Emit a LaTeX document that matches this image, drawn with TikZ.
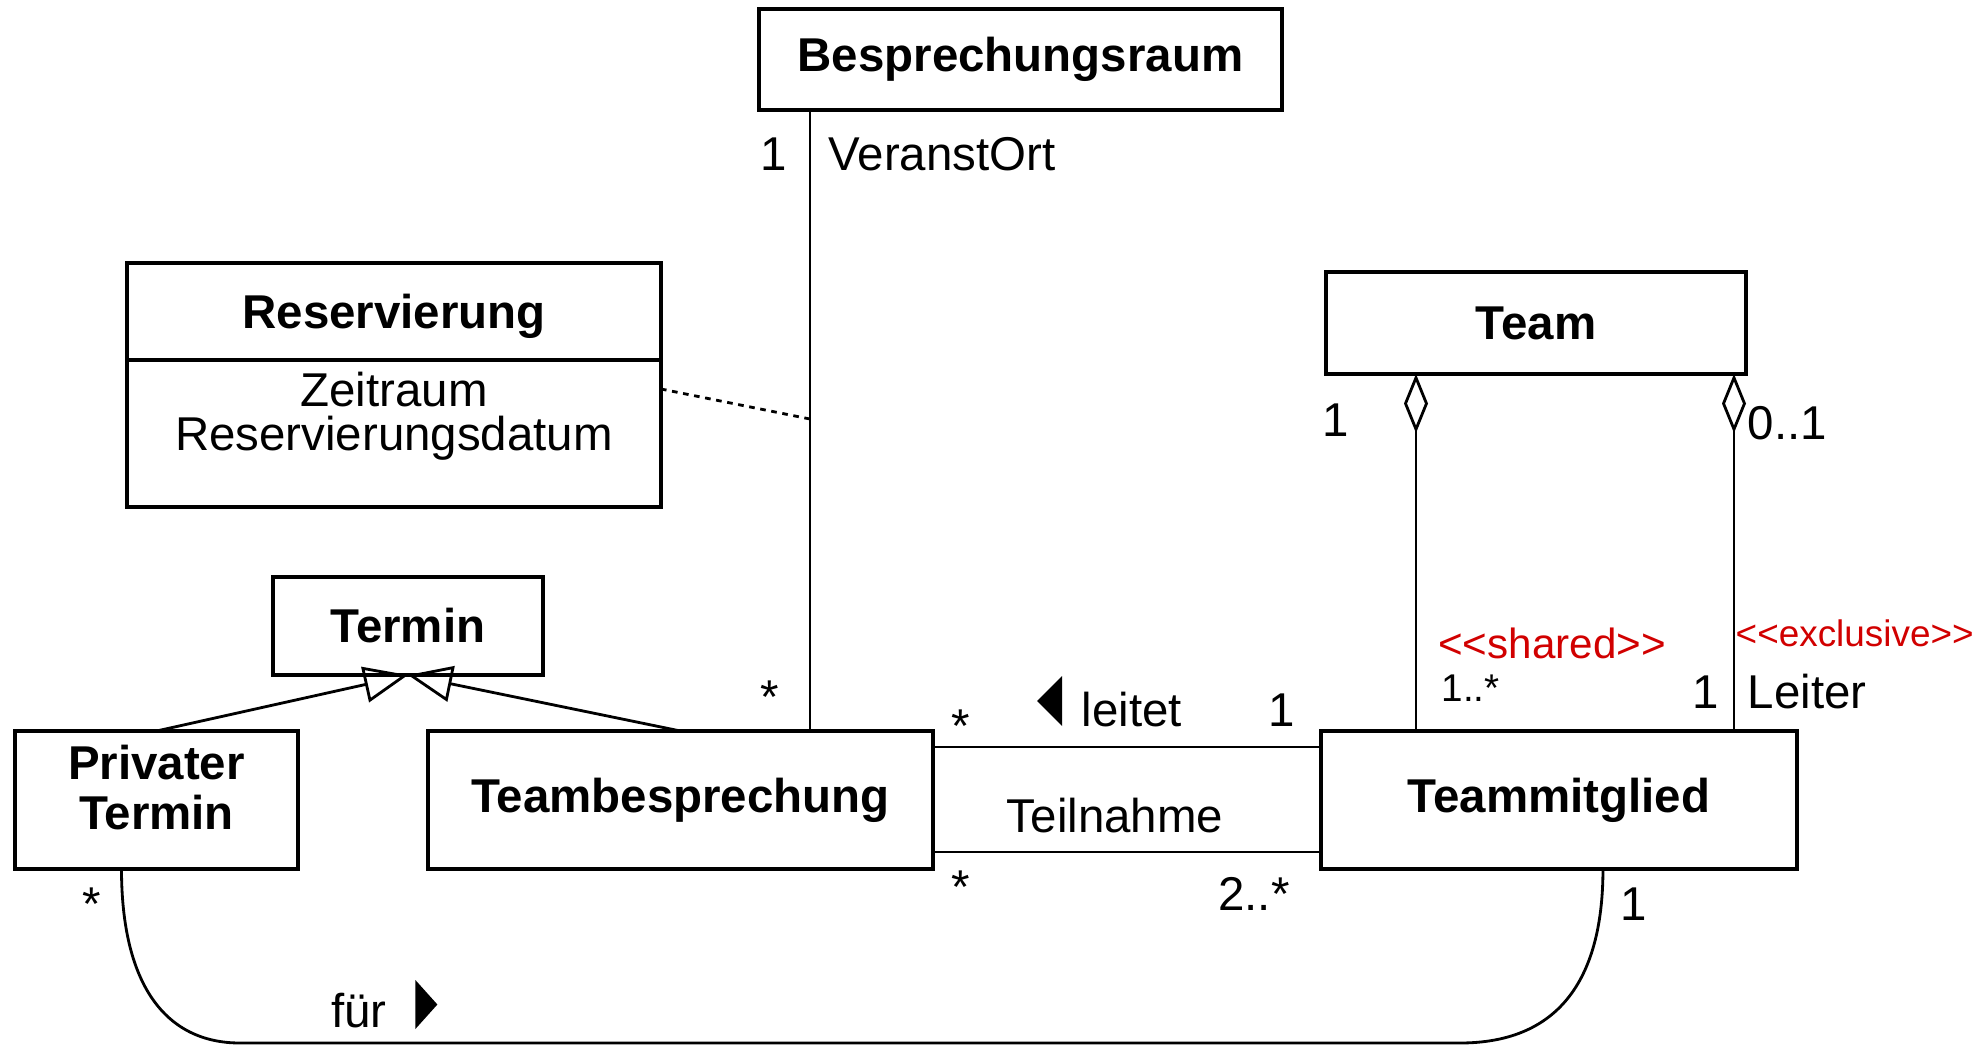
\documentclass[tikz,border=0pt]{standalone}
\usepackage{fontspec}
\setmainfont{Liberation Sans}
\usetikzlibrary{positioning,arrows.meta,calc}
\definecolor{stereored}{HTML}{D10000}
\newcommand{\clsfont}{\fontsize{13.5}{14.3}\selectfont\bfseries}
\newcommand{\lblfont}{\fontsize{13.5}{12.5}\selectfont}
\tikzset{
  cls/.style={rectangle,draw=black,line width=1pt,align=center,font=\clsfont,
    inner sep=2pt,outer sep=0pt},
  attr/.style={cls,font=\lblfont},
  lbl/.style={inner sep=0pt,anchor=base,font=\lblfont},
  lblw/.style={lbl,anchor=base west},
  stereo/.style={inner sep=0pt,anchor=base,text=stereored,font=\fontsize{12}{14}\selectfont},
  ln/.style={line width=0.8pt},
  gen/.style={ln,-{Triangle[open,length=4.4mm,width=3.6mm]}},
  agg/.style={ln,{Diamond[open,length=5.9mm,width=2.4mm]}-},
}

\begin{document}
\begin{tikzpicture}[x=0.1mm,y=-0.1mm]
  \useasboundingbox (0,0) rectangle (1974,1046);
  % classes
  \node[cls,minimum width=52.3mm,minimum height=10.1mm] (raum) at (1020.5,59.5) {Besprechungsraum};
  \node[cls,minimum width=53.4mm,minimum height=9.7mm,text depth=0pt] (res) at (394,311.5) {Reservierung};
  \node[attr,minimum width=53.4mm,minimum height=14.7mm,text depth=4.5mm,below=0mm of res] (resattr) {Zeitraum\\Reservierungsdatum};
  \node[cls,minimum width=27mm,minimum height=9.8mm] (termin) at (408,626) {Termin};
  \node[cls,minimum width=28.3mm,minimum height=13.8mm,text depth=2.6mm] (priv) at (156.5,800) {Privater\\Termin};
  \node[cls,minimum width=50.5mm,minimum height=13.8mm,right=13mm of priv] (tb) {Teambesprechung};
  \node[cls,minimum width=47.6mm,minimum height=13.8mm,right=38.8mm of tb] (tm) {Teammitglied};
  \node[cls,minimum width=42mm,minimum height=10.2mm] (team) at (1536,323) {Team};
  % connectors
  \coordinate (ort) at (810,419);
  \draw[ln] (raum.south -| ort) -- (tb.north -| ort);
  \draw[ln,dash pattern=on 1.6pt off 1.6pt] ($(resattr.north east)+(0,29)$) -- (ort);
  \draw[gen] (priv.north) -- (termin.south);
  \draw[gen] (tb.north) -- (termin.south);
  \draw[ln] ([yshift=5.3mm]tb.east) -- ([yshift=5.3mm]tm.west);
  \draw[ln] ([yshift=-5.2mm]tb.east) -- ([yshift=-5.2mm]tm.west);
  \coordinate (aggl) at ($(team.south)+(-120,0)$);
  \coordinate (aggr) at ($(team.south)+(198,0)$);
  \draw[agg] (aggl) -- (aggl |- tm.north);
  \draw[agg] (aggr) -- (aggr |- tm.north);
  \draw[ln] ($(priv.south)+(-35,0)$) .. controls +(0,115) and +(-75,0) .. (240,1043)
    -- (1460,1043) .. controls +(95,0) and +(0,115) .. ($(tm.south)+(44,0)$);
  % labels
  \node[lbl] (mraum) at (774,170) {1};
  \node[lblw] (rolle) at (828,170) {VeranstOrt};
  \node[lbl] (mtb) at (770,713) {*};
  \node[lbl] (mleit1) at (961,742) {*};
  \node[lbl] (leitet) at (1132,726) {leitet};
  \fill ($(leitet.base west)+(-19,0)$) -- ++(0,-50) -- ++(-25,25) -- cycle;
  \node[lbl] (mleit2) at (1282,726) {1};
  \node[lbl] (teiln) at (1115,832) {Teilnahme};
  \node[lbl] (mteil1) at (961,903) {*};
  \node[lbl] (mteil2) at (1254,910) {2..*};
  \node[lbl] (mteam1) at (1336,436) {1};
  \node[stereo] (shared) at (1552,658) {<{}<shared>{}>};
  \node[lblw,font=\fontsize{11}{13}\selectfont] (mteam2) at (1441,701) {1..*};
  \node[lblw] (mleiter1) at (1747,439) {0..1};
  \node[stereo,anchor=base west,font=\fontsize{10.5}{12}\selectfont] (excl) at (1735,646) {<{}<exclusive>{}>};
  \node[lbl] (mleiter2) at (1706,708) {1};
  \node[lblw] (leiter) at (1747,708) {Leiter};
  \node[lbl] (mfuer1) at (92,920) {*};
  \node[lbl] (fuer) at (359,1027) {für};
  \fill ($(fuer.base east)+(28,2)$) -- ++(0,-49) -- ++(22,24.5) -- cycle;
  \node[lbl] (mfuer2) at (1634,920) {1};
\end{tikzpicture}
\end{document}
